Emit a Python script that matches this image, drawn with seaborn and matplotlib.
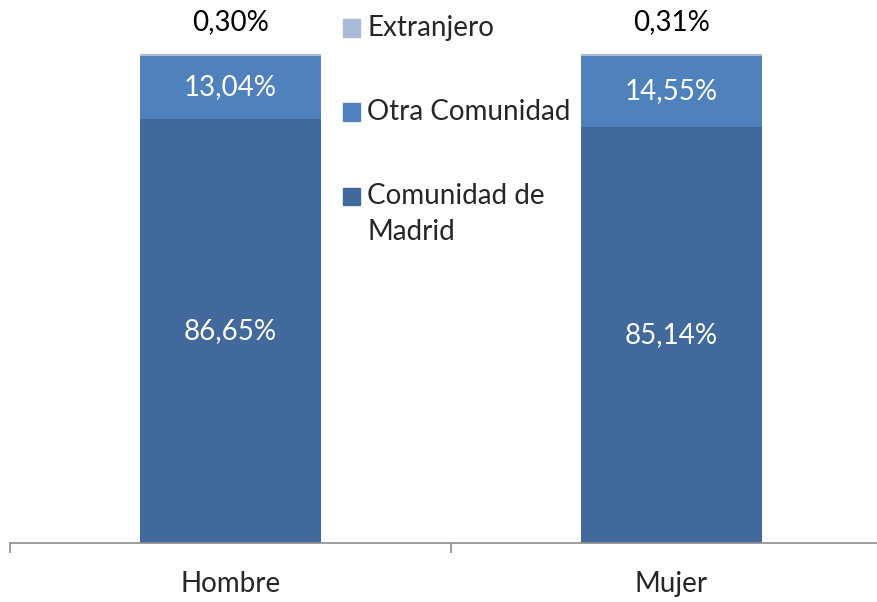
import matplotlib
matplotlib.use("Agg")
import matplotlib.pyplot as plt
import numpy as np
import pandas as pd
import seaborn as sns

sexos = ["Hombre", "Mujer"]
madrid = [86.65, 85.14]
otra = [13.04, 14.55]
extranjero = [0.30, 0.31]

series = ["Extranjero", "Otra Comunidad", "Comunidad de\nMadrid"]
colores = {"Comunidad de\nMadrid": "#41699b", "Otra Comunidad": "#4f81bd", "Extranjero": "#aabad7"}

sns.set_theme(style="white")
plt.rcParams["font.family"] = ["Lato", "DejaVu Sans"]

df = pd.DataFrame({"sexo": sexos, "madrid": madrid, "otra": otra, "extranjero": extranjero})
df["b_otra"] = df["madrid"]
df["b_ext"] = df["madrid"] + df["otra"]

fig = plt.figure(figsize=(8.77, 6.02), dpi=100)
ax = fig.add_axes([10 / 877, 59 / 602, 867 / 877, 489 / 602])

sns.barplot(data=df, x="sexo", y="madrid", color=colores["Comunidad de\nMadrid"], width=0.41,
            saturation=1, linewidth=0, ax=ax)
sns.barplot(data=df, x="sexo", y="otra", bottom=df["b_otra"].values, color=colores["Otra Comunidad"],
            width=0.41, saturation=1, linewidth=0, ax=ax)
sns.barplot(data=df, x="sexo", y="extranjero", bottom=df["b_ext"].values, color=colores["Extranjero"],
            width=0.41, saturation=1, linewidth=0, ax=ax)

ax.set_xlabel("")
ax.set_ylabel("")
ax.set_yticks([])

fs = 20
# etiquetas
for i in range(len(sexos)):
    ax.text(i, madrid[i] / 2, f"{madrid[i]:.2f}%".replace(".", ","), ha="center", va="center",
            color="white", fontsize=fs)
    ax.text(i, madrid[i] + otra[i] / 2, f"{otra[i]:.2f}%".replace(".", ","), ha="center", va="center",
            color="white", fontsize=fs)
    ax.annotate(f"{extranjero[i]:.2f}%".replace(".", ","), (i, 100), xytext=(0, 23),
                textcoords="offset points", ha="center", va="center", fontsize=fs, color="black",
                annotation_clip=False)

for s in ["top", "right", "left"]:
    ax.spines[s].set_visible(False)
ax.spines["bottom"].set_color("#8c8c8c")
ax.spines["bottom"].set_linewidth(1.2)

ax.set_xticks([0, 1])
ax.set_xticklabels(sexos, fontsize=fs)
ax.tick_params(axis="x", which="major", length=0, pad=20)
ax.set_xticks([-0.5, 0.5, 1.5], minor=True)
ax.tick_params(axis="x", which="minor", length=7, width=1.2, color="#8c8c8c", direction="out", bottom=True)
ax.set_xlim(-0.5, -0.5 + 867 / 441)
ax.set_ylim(0, 100)

# leyenda
ys = [28, 112, 196]
for nombre, y in zip(series, ys):
    fig.patches.append(plt.Rectangle((343 / 877, 1 - (y + 8.5) / 602), 17 / 877, 17 / 602,
                                     color=colores[nombre], transform=fig.transFigure, figure=fig))
    fig.text(367 / 877, 1 - y / 602, nombre.split("\n")[0], ha="left", va="center", fontsize=fs)
fig.text(367 / 877, 1 - 232 / 602, "Madrid", ha="left", va="center", fontsize=fs)

fig.savefig("out.png", dpi=100)
